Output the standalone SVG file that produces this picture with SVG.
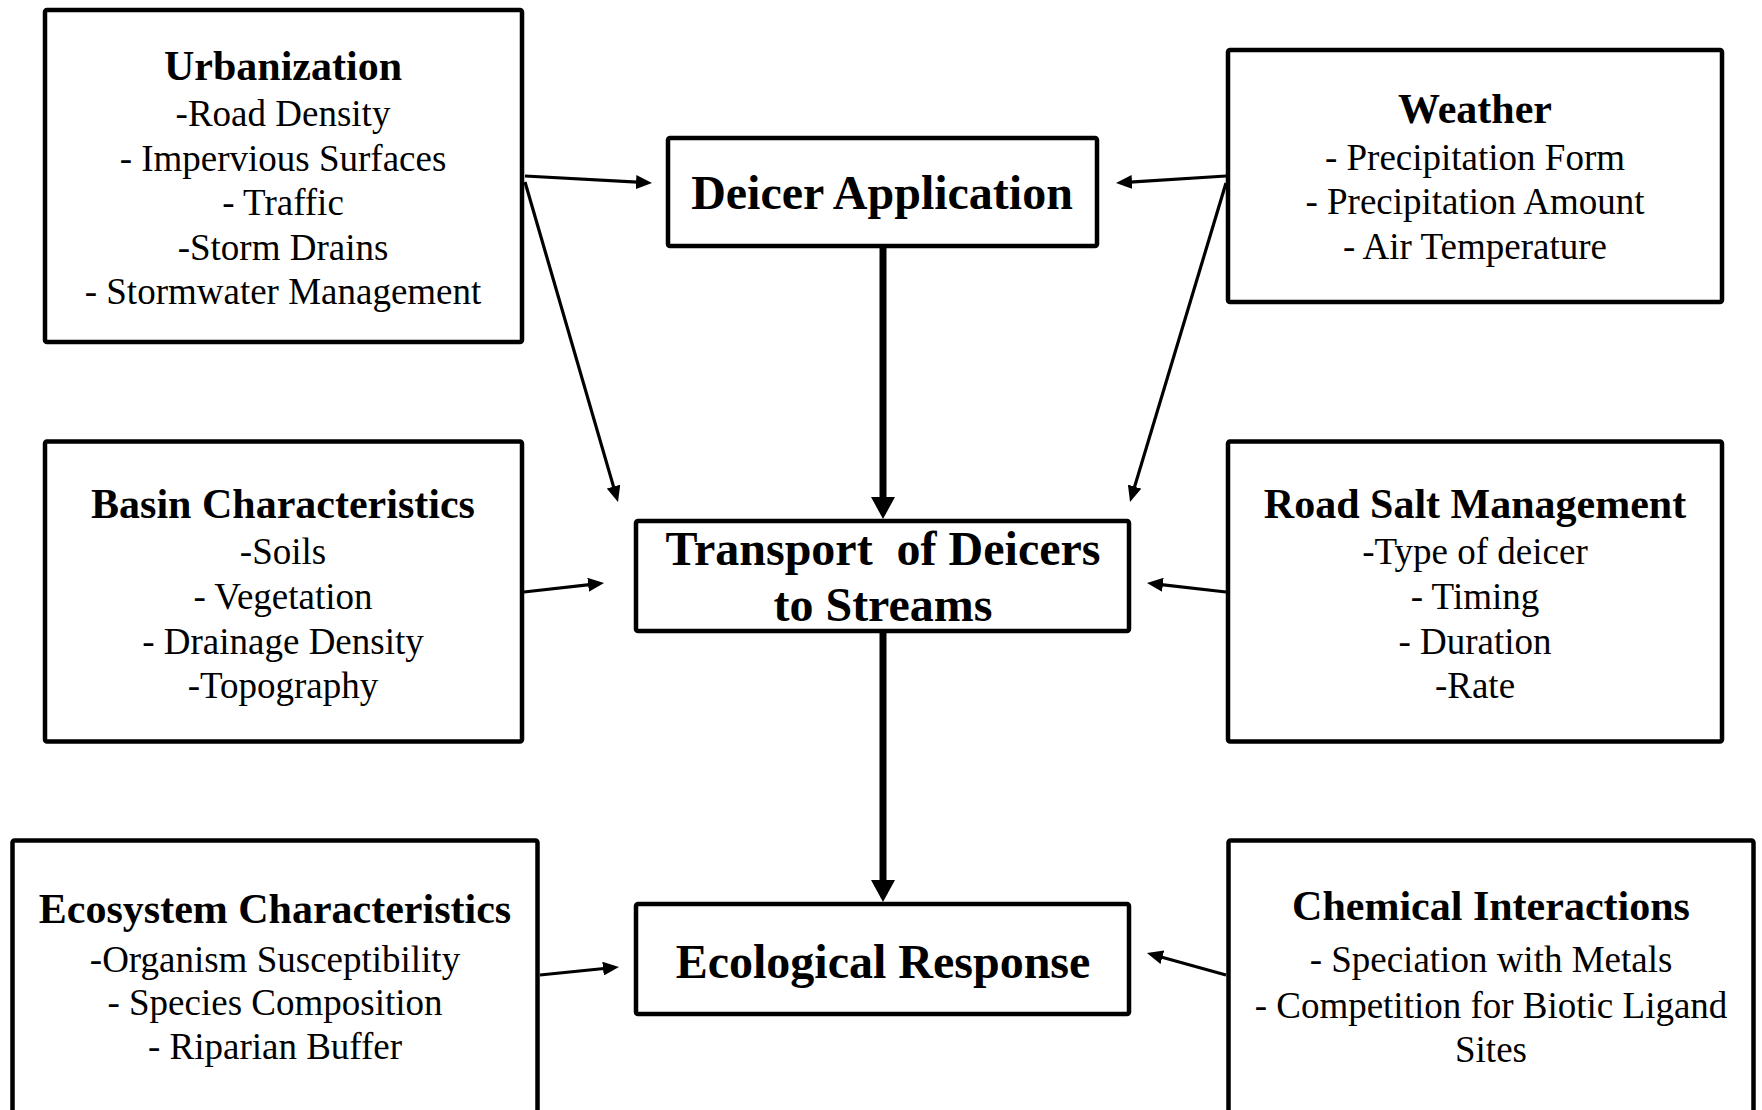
<svg xmlns="http://www.w3.org/2000/svg" width="1762" height="1110" viewBox="0 0 1762 1110">
<style>
.box{fill:#fff;stroke:#000;stroke-width:4.5;rx:2;}
.t{font-family:"Liberation Serif","Times New Roman",serif;fill:#000;text-anchor:middle;}
.h{font-size:42px;font-weight:bold;}
.b{font-size:37px;}
.c{font-size:48px;font-weight:bold;white-space:pre;}
.thin{stroke:#000;stroke-width:3.2;fill:none;marker-end:url(#ah);}
.thick{stroke:#000;stroke-width:7;fill:none;marker-end:url(#ahb);}
</style>
<defs>
<marker id="ah" markerUnits="userSpaceOnUse" markerWidth="16" markerHeight="14" refX="6" refY="7" orient="auto" viewBox="0 0 16 14">
<path d="M0,0 L16,7 L0,14 z" fill="#000"/>
</marker>
<marker id="ahb" markerUnits="userSpaceOnUse" markerWidth="22" markerHeight="24" refX="0" refY="12" orient="auto" viewBox="0 0 22 24">
<path d="M0,0 L22,12 L0,24 z" fill="#000"/>
</marker>
</defs>
<rect width="1762" height="1110" fill="#fff"/>

<g id="connectors">
<line class="thin" x1="525" y1="176" x2="642" y2="182.4"/>
<line class="thin" x1="525" y1="182" x2="615.2" y2="492.4"/>
<line class="thin" x1="1226" y1="176" x2="1126" y2="182.4"/>
<line class="thin" x1="1226" y1="183" x2="1132.9" y2="492.4"/>
<line class="thin" x1="524" y1="592" x2="594.1" y2="584.1"/>
<line class="thin" x1="1226" y1="592" x2="1156.9" y2="584.1"/>
<line class="thin" x1="540" y1="975" x2="609" y2="968"/>
<line class="thin" x1="1226" y1="975" x2="1156.6" y2="955.7"/>
<line class="thick" x1="883" y1="248" x2="883" y2="497"/>
<line class="thick" x1="883" y1="633" x2="883" y2="880"/>
</g>

<g id="urbanization">
<rect class="box" x="45" y="10" width="477" height="332"/>
<text class="t h" x="283" y="80">Urbanization</text>
<text class="t b" x="283" y="126">-Road Density</text>
<text class="t b" x="283" y="171">- Impervious Surfaces</text>
<text class="t b" x="283" y="215">- Traffic</text>
<text class="t b" x="283" y="260">-Storm Drains</text>
<text class="t b" x="283" y="304">- Stormwater Management</text>
</g>

<g id="weather">
<rect class="box" x="1228" y="50" width="494" height="252"/>
<text class="t h" x="1475" y="123">Weather</text>
<text class="t b" x="1475" y="170">- Precipitation Form</text>
<text class="t b" x="1475" y="214">- Precipitation Amount</text>
<text class="t b" x="1475" y="259">- Air Temperature</text>
</g>

<g id="deicer-application">
<rect class="box" x="668" y="138" width="429" height="108"/>
<text class="t c" x="882" y="209">Deicer Application</text>
</g>

<g id="basin">
<rect class="box" x="45" y="441.5" width="477" height="300"/>
<text class="t h" x="283" y="518">Basin Characteristics</text>
<text class="t b" x="283" y="564">-Soils</text>
<text class="t b" x="283" y="609">- Vegetation</text>
<text class="t b" x="283" y="654">- Drainage Density</text>
<text class="t b" x="283" y="698">-Topography</text>
</g>

<g id="road-salt">
<rect class="box" x="1228" y="441.5" width="494" height="300"/>
<text class="t h" x="1475" y="518">Road Salt Management</text>
<text class="t b" x="1475" y="564">-Type of deicer</text>
<text class="t b" x="1475" y="609">- Timing</text>
<text class="t b" x="1475" y="654">- Duration</text>
<text class="t b" x="1475" y="698">-Rate</text>
</g>

<g id="transport">
<rect class="box" x="636" y="521" width="493" height="110"/>
<text class="t c" x="883" y="565">Transport  of Deicers</text>
<text class="t c" x="883" y="621">to Streams</text>
</g>

<g id="ecosystem">
<rect class="box" x="12.5" y="840.5" width="525" height="300"/>
<text class="t h" x="275" y="923">Ecosystem Characteristics</text>
<text class="t b" x="275" y="972">-Organism Susceptibility</text>
<text class="t b" x="275" y="1015">- Species Composition</text>
<text class="t b" x="275" y="1059">- Riparian Buffer</text>
</g>

<g id="chemical">
<rect class="box" x="1228.5" y="840.5" width="525" height="300"/>
<text class="t h" x="1491" y="920">Chemical Interactions</text>
<text class="t b" x="1491" y="972">- Speciation with Metals</text>
<text class="t b" x="1491" y="1018">- Competition for Biotic Ligand</text>
<text class="t b" x="1491" y="1062">Sites</text>
</g>

<g id="ecological-response">
<rect class="box" x="636" y="904" width="493" height="110"/>
<text class="t c" x="883" y="978">Ecological Response</text>
</g>
</svg>
